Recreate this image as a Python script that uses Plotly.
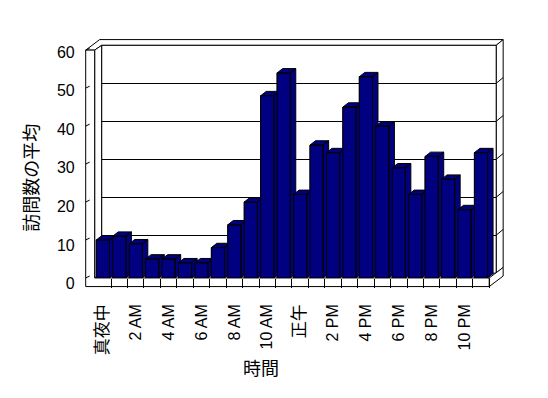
import plotly.graph_objects as go

# ---------------- data ----------------
hours = ["真夜中", "1 AM", "2 AM", "3 AM", "4 AM", "5 AM", "6 AM", "7 AM",
         "8 AM", "9 AM", "10 AM", "11 AM", "正午", "1 PM", "2 PM", "3 PM",
         "4 PM", "5 PM", "6 PM", "7 PM", "8 PM", "9 PM", "10 PM", "11 PM"]
visits = [10, 11, 9, 5, 5, 4, 4, 8, 14, 20, 48, 54,
          22, 35, 33, 45, 53, 40, 29, 22, 32, 26, 18, 33]
tick_labels = hours[::2]
y_ticks = [0, 10, 20, 30, 40, 50, 60]
y_title = "訪問数の平均"
x_title = "時間"

# ---------------- geometry (pixels) ----------------
W, H = 548, 398
def X(p): return p / W
def Y(p): return 1 - p / H

N = len(hours)
FX0, FX1 = 93, 489          # front interior plane
FY0, FYT = 282, 44          # value 0 / value 60 on the front plane
OUTX = 84                   # outer face of left wall
FLB = 291                   # floor bottom front
D1 = (7, -5)                # back wall front face offset
D2 = (14, -11)              # back wall back face offset
SLOT = (FX1 - FX0) / N
YMAX = 60
BX0, BX1 = FX0 + D1[0], FX1 + D1[0]
BY0, BYT = FY0 + D1[1], FYT + D1[1]

def fy(v):   # front plane pixel y
    return FY0 - v * (FY0 - FYT) / YMAX
def by(v):   # back wall pixel y
    return BY0 - v * (BY0 - BYT) / YMAX

def poly(pts, fill="white"):
    d = "M " + " L ".join(f"{X(a):.5f},{Y(b):.5f}" for a, b in pts) + " Z"
    return dict(type="path", xref="paper", yref="paper", path=d,
                fillcolor=fill, line=dict(color="black", width=1), layer="below")

def seg(a, b, c, d):
    return dict(type="line", xref="paper", yref="paper",
                x0=X(a), y0=Y(b), x1=X(c), y1=Y(d),
                line=dict(color="black", width=1), layer="below")

shapes = []
# top surfaces of left wall + back wall
shapes.append(poly([(OUTX, FYT), (OUTX + D2[0], FYT + D2[1]),
                    (FX1 + D2[0], FYT + D2[1]), (BX1, BYT), (BX0, BYT), (FX0, FYT)]))
# back wall right side
shapes.append(poly([(BX1, BYT), (FX1 + D2[0], FYT + D2[1]),
                    (FX1 + D2[0], FY0 + D2[1]), (BX1, BY0)]))
for v in y_ticks[1:-1]:
    shapes.append(seg(BX1, by(v), FX1 + D2[0], by(v) + (D2[1] - D1[1])))
# back wall front face
shapes.append(poly([(BX0, BYT), (BX1, BYT), (BX1, BY0), (BX0, BY0)]))
# left wall inner face
shapes.append(poly([(FX0, FYT), (BX0, BYT), (BX0, BY0), (FX0, FY0)]))
# floor right side
shapes.append(poly([(FX1, FY0), (FX1 + D2[0], FY0 + D2[1]),
                    (FX1 + D2[0], FLB + D2[1]), (FX1, FLB)]))
# front L-shape: left wall front + floor front
shapes.append(poly([(OUTX, FYT), (FX0, FYT), (FX0, FY0), (FX1, FY0),
                    (FX1, FLB), (OUTX, FLB)]))
# front axis tick marks
for v in y_ticks:
    shapes.append(seg(OUTX, fy(v), OUTX + 4, fy(v) - 2))

# ---------------- figure ----------------
fig = go.Figure()
xs = list(range(N))
BW = 0.8
DX = 5.5 / SLOT
DY = 4.5 * YMAX / (FY0 - FYT)
NAVY = "#000080"

# helper traces to create the back-wall and label subplots
fig.add_trace(go.Scatter(x=[0.5], y=[0], mode="markers", marker=dict(opacity=0),
                         xaxis="x", yaxis="y", hoverinfo="skip"))
fig.add_trace(go.Scatter(x=[0.5], y=[0], mode="markers", marker=dict(opacity=0),
                         xaxis="x3", yaxis="y3", hoverinfo="skip"))

fig.add_trace(go.Bar(x=xs, y=visits, width=BW, marker=dict(color=NAVY,
                     line=dict(color="black", width=1)), xaxis="x2", yaxis="y2"))

for i, v in zip(xs, visits):
    l, r = i - BW / 2, i + BW / 2
    side = [(r, 0), (r + DX, DY), (r + DX, v + DY), (r, v), (r, 0)]
    top = [(l, v), (r, v), (r + DX, v + DY), (l + DX, v + DY), (l, v)]
    front = [(l, 0), (r, 0), (r, v), (l, v), (l, 0)]
    px, py = [], []
    for face in (side, top, front):
        px += [p[0] for p in face] + [None]
        py += [p[1] for p in face] + [None]
    fig.add_trace(go.Scatter(x=px, y=py, mode="lines", fill="toself",
                             fillcolor=NAVY, line=dict(color="black", width=1),
                             xaxis="x2", yaxis="y2", hoverinfo="skip"))

def fmt(t):
    if any(ord(c) > 0x3000 for c in t):
        return f'<span style="font-size:17px">{t}</span>'
    return t

FONT = "Liberation Sans, Noto Sans CJK JP, sans-serif"

fig.update_layout(
    width=W, height=H, margin=dict(l=0, r=0, t=0, b=0),
    paper_bgcolor="white", plot_bgcolor="rgba(0,0,0,0)",
    showlegend=False, hovermode=False, shapes=shapes,
    font=dict(family=FONT, color="black"),
    xaxis=dict(domain=[X(BX0), X(BX1)], range=[0, 1], visible=False, anchor="y"),
    yaxis=dict(domain=[Y(BY0), Y(BYT)], range=[0, YMAX], anchor="x",
               tickmode="array", tickvals=y_ticks, showgrid=True,
               gridcolor="black", gridwidth=1, showticklabels=False,
               ticks="", zeroline=False, showline=False),
    xaxis2=dict(domain=[X(FX0), X(FX1 + SLOT)], range=[-0.5, N + 0.5], anchor="y2",
                tickmode="array", tickvals=xs[::2],
                ticktext=[fmt(t) for t in tick_labels], tickangle=-90,
                ticks="", ticklabelstandoff=22, showgrid=False, zeroline=False,
                showline=False, tickfont=dict(size=16, family=FONT, color="black"),
                minor=dict(tickmode="array", tickvals=[k + 0.5 for k in range(N)],
                           ticks="outside", ticklen=FLB - FY0, tickcolor="black",
                           tickwidth=1, showgrid=False)),
    yaxis2=dict(domain=[Y(FY0), Y(FYT)], range=[0, YMAX], anchor="x2", visible=False),
    xaxis3=dict(domain=[X(OUTX), X(OUTX + 6)], range=[0, 1], visible=False, anchor="y3"),
    yaxis3=dict(domain=[Y(288), Y(46)], range=[0, YMAX], anchor="x3",
                tickmode="array", tickvals=y_ticks, ticks="", showgrid=False,
                zeroline=False, showline=False, ticklabelstandoff=10,
                tickfont=dict(size=16, family=FONT, color="black")),
    annotations=[
        dict(text=y_title, xref="paper", yref="paper", x=X(28.5), y=Y(177),
             showarrow=False, textangle=-90, xanchor="center", yanchor="middle",
             font=dict(size=18, family="Noto Sans CJK JP", color="black")),
        dict(text=x_title, xref="paper", yref="paper", x=X(260), y=Y(375),
             showarrow=False, xanchor="center", yanchor="middle",
             font=dict(size=18, family="Noto Sans CJK JP", color="black")),
    ],
)

fig.write_html("out.html")
